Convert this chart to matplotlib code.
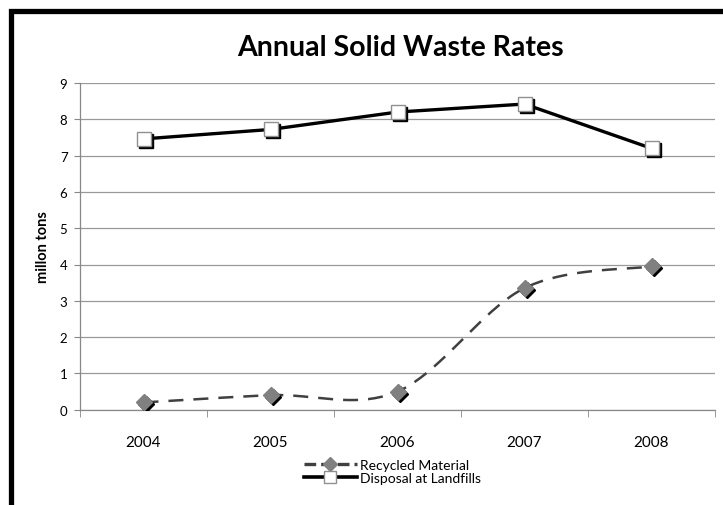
import numpy as np
import matplotlib

matplotlib.use("Agg")
import matplotlib.pyplot as plt
from matplotlib.patches import Rectangle
from matplotlib.transforms import offset_copy

plt.rcParams["font.family"] = ["Lato", "DejaVu Sans"]

years = ["2004", "2005", "2006", "2007", "2008"]
recycled = [0.2, 0.4, 0.5, 3.35, 3.95]
disposal = [7.46, 7.72, 8.2, 8.42, 7.2]
yticks = [0, 1, 2, 3, 4, 5, 6, 7, 8, 9]


def smooth_curve(x, y, steps=40):
    """Excel-style smoothed line: cubic Bezier with Catmull-Rom control points."""
    x = np.asarray(x, float)
    y = np.asarray(y, float)
    px = np.concatenate([[x[0]], x, [x[-1]]])
    py = np.concatenate([[y[0]], y, [y[-1]]])
    t = np.linspace(0, 1, steps)[:, None]
    xs, ys = [], []
    for i in range(1, len(x)):
        p0 = np.array([px[i], py[i]])
        p3 = np.array([px[i + 1], py[i + 1]])
        c1 = p0 + (p3 - np.array([px[i - 1], py[i - 1]])) / 6
        c2 = p3 - (np.array([px[i + 2], py[i + 2]]) - p0) / 6
        seg = ((1 - t) ** 3) * p0 + 3 * ((1 - t) ** 2) * t * c1 + 3 * (1 - t) * t ** 2 * c2 + t ** 3 * p3
        xs.append(seg[:, 0])
        ys.append(seg[:, 1])
    return np.concatenate(xs), np.concatenate(ys)


fig = plt.figure(figsize=(7.23, 5.06), dpi=100)
ax = fig.add_axes([80 / 723, 1 - 410.7 / 506, 635 / 723, 326.7 / 506])

# outer chart border (runs off the right/bottom of the image)
fig.patches.append(Rectangle((10.5 / 723, -0.1), 1.0, 1 - 11.5 / 506 + 0.1,
                             transform=fig.transFigure, fill=False,
                             edgecolor="black", lw=3.8, zorder=0))

x = np.arange(len(years))
grey = "#404040"

# recycled material: smoothed dashed line with diamonds
sx, sy = smooth_curve(x, recycled)
ax.plot(sx, sy, color=grey, lw=1.8, dashes=(6, 4), zorder=3)
shadow = offset_copy(ax.transData, fig=fig, x=2, y=-2, units="dots")
ax.plot(x, recycled, ls="none", marker="D", ms=8, color="black", transform=shadow, zorder=4)
ax.plot(x, recycled, ls="none", marker="D", ms=8, mfc="#808080", mec="#808080", zorder=5)
ax.plot([], [], color=grey, lw=2.4, dashes=(3.5, 1.5), marker="D", ms=7,
        mfc="#808080", mec="#808080", label="Recycled Material")

# disposal at landfills: solid black line with white squares
ax.plot(x, disposal, color="black", lw=2.4, zorder=3)
ax.plot(x, disposal, ls="none", marker="s", ms=9.5, color="black", transform=shadow, zorder=4)
ax.plot(x, disposal, ls="none", marker="s", ms=9.5, mfc="white", mec="#909090", mew=1.0, zorder=5)
ax.plot([], [], color="black", lw=2.6, marker="s", ms=8, mfc="white", mec="#909090",
        label="Disposal at Landfills")

ax.set_xlim(-0.5, len(years) - 0.5)
ax.set_ylim(0, 9)
ax.set_yticks(yticks)
ax.set_xticks(x)
ax.set_xticklabels(years)
ax.set_xticks(np.arange(-0.5, len(years), 1), minor=True)
ax.tick_params(axis="x", which="major", length=0, pad=18, labelsize=11)
ax.tick_params(axis="x", which="minor", length=5, color="#888888", direction="out")
ax.tick_params(axis="y", length=4, color="#888888", labelsize=9.5, pad=5)
ax.grid(axis="y", color="#999999", lw=0.9)
ax.set_axisbelow(True)
for s in ["top", "right"]:
    ax.spines[s].set_visible(False)
for s in ["left", "bottom"]:
    ax.spines[s].set_color("#888888")
    ax.spines[s].set_linewidth(0.9)

ax.set_ylabel("millon tons", fontweight="bold", fontsize=10.5, labelpad=7)
fig.text(400 / 723, 1 - 47.5 / 506, "Annual Solid Waste Rates", ha="center", va="center",
         fontsize=20.5, fontweight="bold")

fig.legend(loc="upper left", bbox_to_anchor=(297 / 723, 1 - 453 / 506), frameon=False,
           fontsize=10, handlelength=3.8, handletextpad=0.2, labelspacing=0.05,
           borderpad=0, numpoints=1)

fig.savefig("out.png", dpi=100)
